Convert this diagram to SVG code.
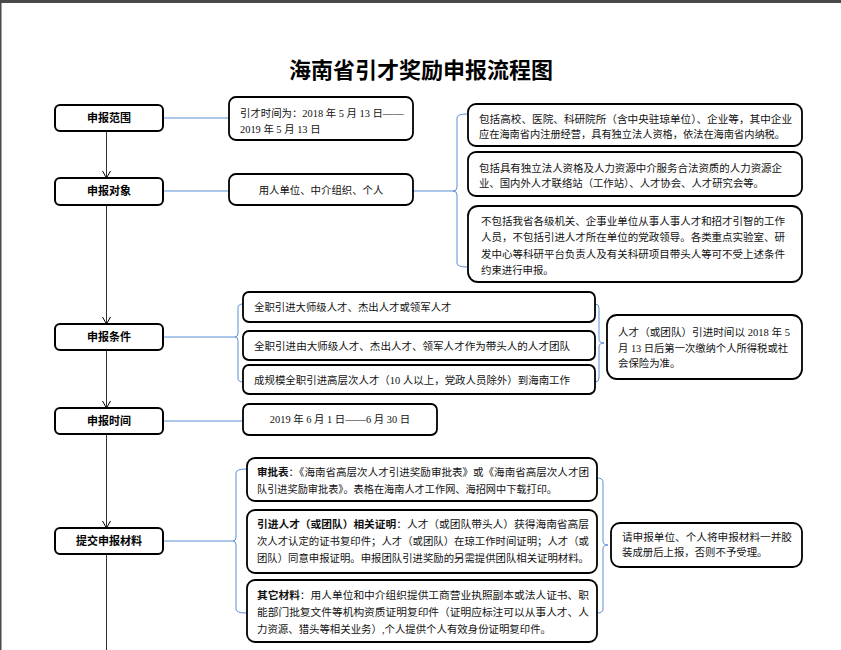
<svg xmlns="http://www.w3.org/2000/svg" width="841" height="650" viewBox="0 0 841 650">
<style>
.node rect{fill:#fff;stroke:#000;stroke-width:2}
.box rect{fill:#fff;stroke:#000;stroke-width:1.8}
.lbl{font-family:"Liberation Sans","Noto Sans CJK SC",sans-serif;font-size:11px;font-weight:bold;text-anchor:middle;fill:#000}
.t{font-family:"Liberation Serif","Noto Sans CJK SC",serif;font-size:10.4px;fill:#111}
.b{font-weight:bold}
.flow{fill:none;stroke:#333;stroke-width:1}
.blue{fill:none;stroke:#5b8fd6;stroke-width:1}
</style>
<defs>
<marker id="arr" markerUnits="userSpaceOnUse" markerWidth="10" markerHeight="10" refX="7" refY="4" orient="auto">
<path d="M0,0 L7,4 L0,8" fill="none" stroke="#000" stroke-width="1"/>
</marker>
</defs>
<rect x="0" y="0" width="841" height="650" fill="#fff"/>
<rect x="0" y="0" width="841" height="3" fill="#4a4a4a"/>
<rect x="0" y="0" width="1.5" height="650" fill="#4a4a4a"/>
<text x="421" y="78" text-anchor="middle" font-family="'Noto Sans CJK SC',sans-serif" font-size="22" font-weight="bold" fill="#000">海南省引才奖励申报流程图</text>
<g id="connectors">
<path class="flow" d="M106.5,131 V178" marker-end="url(#arr)"/>
<path class="flow" d="M106.5,205 V324" marker-end="url(#arr)"/>
<path class="flow" d="M106.5,350 V408" marker-end="url(#arr)"/>
<path class="flow" d="M106.5,434 V528" marker-end="url(#arr)"/>
<path class="flow" d="M106.5,554 V650"/>
<path class="blue" d="M163,118 H229"/>
<path class="blue" d="M163,191 H229"/>
<path class="blue" d="M413,191 H453"/>
<path class="blue" d="M467,114 Q457,114 457,118 L457,187 Q457,191 453,191 Q457,191 457,195 L457,263 Q457,267 467,267"/>
<path class="blue" d="M163,337 H235"/>
<path class="blue" d="M243,304 Q238,304 238,308 L238,333 Q238,337 235,337 Q238,337 238,341 L238,378 Q238,382 243,382"/>
<path class="blue" d="M595,304 Q599,304 599,308 L599,339 Q599,343 604,343 Q599,343 599,347 L599,378 Q599,382 595,382"/>
<path class="blue" d="M163,421 H243"/>
<path class="blue" d="M163,541 H233"/>
<path class="blue" d="M246,469 Q236,469 236,473 L236,537 Q236,541 233,541 Q236,541 236,545 L236,609 Q236,613 246,613"/>
<path class="blue" d="M597,478 Q603,478 603,482 L603,541 Q603,545 608,545 Q603,545 603,549 L603,609 Q603,613 597,613"/>
</g>
<g id="n-scope" class="node"><rect x="55" y="105" width="108" height="26" rx="5"/><text class="lbl" x="109" y="122">申报范围</text></g>
<g id="n-target" class="node"><rect x="55" y="178" width="108" height="27" rx="5"/><text class="lbl" x="109" y="195">申报对象</text></g>
<g id="n-cond" class="node"><rect x="55" y="324" width="108" height="26" rx="5"/><text class="lbl" x="109" y="341">申报条件</text></g>
<g id="n-time" class="node"><rect x="55" y="408" width="108" height="26" rx="5"/><text class="lbl" x="109" y="425">申报时间</text></g>
<g id="n-submit" class="node"><rect x="55" y="528" width="108" height="26" rx="5"/><text class="lbl" x="109" y="545">提交申报材料</text></g>
<g id="b-period" class="box"><rect x="229" y="97" width="184" height="43" rx="7"/>
<text class="t" x="240" y="117">引才时间为：2018 年 5 月 13 日——</text>
<text class="t" x="240" y="133">2019 年 5 月 13 日</text></g>
<g id="b-who" class="box"><rect x="229" y="174" width="184" height="31" rx="7"/>
<text class="t" x="321" y="194" text-anchor="middle">用人单位、中介组织、个人</text></g>
<g id="b-units" class="box"><rect x="468" y="104" width="334" height="42" rx="8"/>
<text class="t" x="479" y="123" textLength="313" lengthAdjust="spacingAndGlyphs">包括高校、医院、科研院所（含中央驻琼单位）、企业等，其中企业</text>
<text class="t" x="479" y="138" textLength="306" lengthAdjust="spacingAndGlyphs">应在海南省内注册经营，具有独立法人资格，依法在海南省内纳税。</text></g>
<g id="b-agency" class="box"><rect x="468" y="152" width="334" height="44" rx="8"/>
<text class="t" x="479" y="172" textLength="303" lengthAdjust="spacingAndGlyphs">包括具有独立法人资格及人力资源中介服务合法资质的人力资源企</text>
<text class="t" x="479" y="187" textLength="285" lengthAdjust="spacingAndGlyphs">业、国内外人才联络站（工作站）、人才协会、人才研究会等。</text></g>
<g id="b-exclude" class="box"><rect x="468" y="206" width="334" height="76" rx="10"/>
<text class="t" x="481" y="225" textLength="304" lengthAdjust="spacingAndGlyphs">不包括我省各级机关、企事业单位从事人事人才和招才引智的工作</text>
<text class="t" x="481" y="241" textLength="304" lengthAdjust="spacingAndGlyphs">人员，不包括引进人才所在单位的党政领导。各类重点实验室、研</text>
<text class="t" x="481" y="258" textLength="304" lengthAdjust="spacingAndGlyphs">发中心等科研平台负责人及有关科研项目带头人等可不受上述条件</text>
<text class="t" x="481" y="274">约束进行申报。</text></g>
<g id="b-c1" class="box"><rect x="243" y="292" width="352" height="30" rx="6"/>
<text class="t" x="254" y="311">全职引进大师级人才、杰出人才或领军人才</text></g>
<g id="b-c2" class="box"><rect x="243" y="331" width="352" height="29" rx="6"/>
<text class="t" x="254" y="350" textLength="316" lengthAdjust="spacingAndGlyphs">全职引进由大师级人才、杰出人才、领军人才作为带头人的人才团队</text></g>
<g id="b-c3" class="box"><rect x="243" y="365" width="352" height="29" rx="6"/>
<text class="t" x="254" y="384" textLength="316" lengthAdjust="spacingAndGlyphs">成规模全职引进高层次人才（10 人以上，党政人员除外）到海南工作</text></g>
<g id="b-cnote" class="box"><rect x="607" y="315" width="195" height="64" rx="10"/>
<text class="t" x="618" y="336" textLength="172" lengthAdjust="spacingAndGlyphs">人才（或团队）引进时间以 2018 年 5</text>
<text class="t" x="618" y="352" textLength="170" lengthAdjust="spacingAndGlyphs">月 13 日后第一次缴纳个人所得税或社</text>
<text class="t" x="618" y="367">会保险为准。</text></g>
<g id="b-time" class="box"><rect x="243" y="404" width="194" height="31" rx="6"/>
<text class="t" x="340" y="423" text-anchor="middle">2019 年 6 月 1 日——6 月 30 日</text></g>
<g id="b-m1" class="box"><rect x="247" y="458" width="350" height="43" rx="8"/>
<text class="t" x="257" y="476" textLength="332" lengthAdjust="spacingAndGlyphs"><tspan class="b">审批表</tspan>：《海南省高层次人才引进奖励审批表》或《海南省高层次人才团</text>
<text class="t" x="257" y="493" textLength="300" lengthAdjust="spacingAndGlyphs">队引进奖励审批表》。表格在海南人才工作网、海招网中下载打印。</text></g>
<g id="b-m2" class="box"><rect x="247" y="510" width="350" height="63" rx="8"/>
<text class="t" x="257" y="528" textLength="332" lengthAdjust="spacingAndGlyphs"><tspan class="b">引进人才（或团队）相关证明</tspan>：人才（或团队带头人）获得海南省高层</text>
<text class="t" x="257" y="545" textLength="332" lengthAdjust="spacingAndGlyphs">次人才认定的证书复印件；人才（或团队）在琼工作时间证明；人才（或</text>
<text class="t" x="257" y="562" textLength="332" lengthAdjust="spacingAndGlyphs">团队）同意申报证明。申报团队引进奖励的另需提供团队相关证明材料。</text></g>
<g id="b-m3" class="box"><rect x="247" y="580" width="350" height="62" rx="8"/>
<text class="t" x="257" y="599" textLength="332" lengthAdjust="spacingAndGlyphs"><tspan class="b">其它材料</tspan>：用人单位和中介组织提供工商营业执照副本或法人证书、职</text>
<text class="t" x="257" y="616" textLength="332" lengthAdjust="spacingAndGlyphs">能部门批复文件等机构资质证明复印件（证明应标注可以从事人才、人</text>
<text class="t" x="257" y="633" textLength="294" lengthAdjust="spacingAndGlyphs">力资源、猎头等相关业务）,个人提供个人有效身份证明复印件。</text></g>
<g id="b-mnote" class="box"><rect x="611" y="523" width="191" height="44" rx="9"/>
<text class="t" x="622" y="541" textLength="170" lengthAdjust="spacingAndGlyphs">请申报单位、个人将申报材料一并胶</text>
<text class="t" x="622" y="556">装成册后上报，否则不予受理。</text></g>
</svg>
